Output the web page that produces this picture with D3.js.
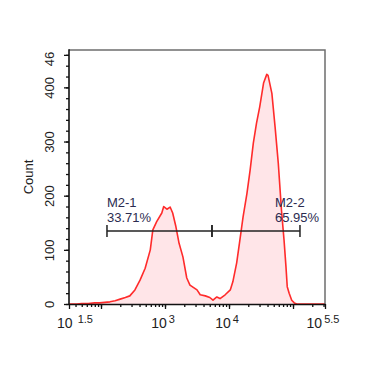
<!DOCTYPE html>
<html>
<head>
<meta charset="utf-8">
<script src="https://cdn.jsdelivr.net/npm/d3@7/dist/d3.min.js"></script>
<style>
  body { margin: 0; background: #fff; }
  svg { display: block; }
</style>
</head>
<body>
<div id="chart"></div>
<script>
"use strict";

// histogram: bin position (log10 of channel) and count
const binLog = [1.50, 1.62, 1.70, 1.80, 1.90, 1.98, 2.06, 2.14, 2.22, 2.30, 2.38, 2.45,
  2.53, 2.61, 2.69, 2.77, 2.81, 2.87, 2.95, 2.98, 3.03, 3.08, 3.12, 3.17, 3.22, 3.28,
  3.34, 3.39, 3.50, 3.55, 3.63, 3.70, 3.75, 3.81, 3.86, 3.94, 4.02, 4.06, 4.12, 4.17,
  4.22, 4.28, 4.33, 4.38, 4.43, 4.48, 4.54, 4.59, 4.61, 4.67, 4.72, 4.77, 4.82, 4.86,
  4.89, 4.91, 4.94, 4.98, 5.02, 5.06, 5.50];
const counts = [0, 0, 1, 1, 2, 2, 3, 4, 6, 9, 12, 15,
  26, 44, 66, 100, 137, 152, 168, 180, 175, 179, 168, 143, 112, 87,
  48, 35, 26, 17, 15, 12, 7, 13, 10, 17, 26, 41, 76, 118,
  161, 204, 247, 297, 334, 364, 408, 424, 422, 389, 327, 260, 173, 118,
  69, 32, 20, 7, 2, 0, 0];

const gateNames = ["M2-1", "M2-2"];
const gatePercents = ["33.71%", "65.95%"];
const gateStart = [124, 5420];
const gateEnd = [5420, 128500];

const xTickExps = [1.5, 3, 4, 5.5];
const yTickLabels = [0, 100, 200, 300, 400, 460];

const width = 381;
const height = 372;
const margin = { top: 50, right: 56, bottom: 68, left: 69 };

const svg = d3.select("#chart")
  .append("svg")
  .attr("width", width)
  .attr("height", height)
  .style("font-family", "'Liberation Sans', Arial, sans-serif");

const x = d3.scaleLog()
  .domain([Math.pow(10, 1.5), Math.pow(10, 5.5)])
  .range([margin.left, width - margin.right]);

const y = d3.scaleLinear()
  .domain([0, 469])
  .range([height - margin.bottom, margin.top]);

const data = binLog.map((e, i) => ({ v: Math.pow(10, e), c: counts[i] }));

svg.append("clipPath")
  .attr("id", "plotClip")
  .append("rect")
  .attr("x", margin.left)
  .attr("y", margin.top)
  .attr("width", width - margin.left - margin.right)
  .attr("height", height - margin.top - margin.bottom);

const plot = svg.append("g").attr("clip-path", "url(#plotClip)");

plot.append("path")
  .datum(data)
  .attr("fill", "#ffe5e8")
  .attr("d", d3.area().x(d => x(d.v)).y0(y(0)).y1(d => y(d.c)));

plot.append("path")
  .datum(data)
  .attr("fill", "none")
  .attr("stroke", "#ff2b2b")
  .attr("stroke-width", 1.6)
  .attr("stroke-linejoin", "round")
  .attr("d", d3.line().x(d => x(d.v)).y(d => y(d.c)));

// frame top / right
svg.append("path")
  .attr("fill", "none")
  .attr("stroke", "#6e6e6e")
  .attr("stroke-width", 1.5)
  .attr("d", `M${margin.left},${margin.top}H${width - margin.right}V${height - margin.bottom}`);

// y axis
const yMinor = d3.range(0, 461, 20);
svg.append("g")
  .attr("transform", `translate(${margin.left},0)`)
  .call(d3.axisLeft(y).tickValues(yMinor).tickSize(3).tickFormat(""))
  .call(g => g.select(".domain").remove())
  .selectAll("line").attr("stroke", "#111").attr("stroke-width", 1.3);

svg.append("clipPath")
  .attr("id", "yLabClip")
  .append("rect")
  .attr("x", -margin.left)
  .attr("y", margin.top + 2)
  .attr("width", 200)
  .attr("height", height);

const yAxis = svg.append("g")
  .attr("transform", `translate(${margin.left},0)`)
  .call(d3.axisLeft(y).tickValues(yTickLabels).tickSize(5).tickSizeOuter(0))
  .attr("font-size", 13)
  .attr("font-family", null)
  .attr("clip-path", "url(#yLabClip)");

yAxis.select(".domain").remove();
yAxis.selectAll("line").attr("stroke", "#111").attr("stroke-width", 1.3);
yAxis.selectAll("text")
  .attr("fill", "#222")
  .attr("transform", "rotate(-90)")
  .attr("x", 0)
  .attr("y", -15)
  .attr("dy", 0)
  .attr("text-anchor", "middle");

svg.append("line")
  .attr("x1", margin.left)
  .attr("x2", margin.left)
  .attr("y1", margin.top - 0.75)
  .attr("y2", y(0))
  .attr("stroke", "#111")
  .attr("stroke-width", 1.6);

svg.append("text")
  .attr("transform", `translate(33,${(margin.top + y(0)) / 2}) rotate(-90)`)
  .attr("text-anchor", "middle")
  .attr("font-size", 13)
  .attr("fill", "#222")
  .text("Count");

// x axis
const xMinor = [];
for (let d = 1; d <= 5; d++) {
  for (let m = 1; m <= 9; m++) {
    const v = m * Math.pow(10, d);
    if (v >= x.domain()[0] && v <= x.domain()[1]) xMinor.push(v);
  }
}
const xMajor = [Math.pow(10, 1.5), 100, 1000, 10000, 100000, Math.pow(10, 5.5)];

svg.append("g")
  .attr("transform", `translate(0,${y(0)})`)
  .call(d3.axisBottom(x).tickValues(xMinor).tickSize(3).tickFormat(""))
  .call(g => g.select(".domain").remove())
  .selectAll("line").attr("stroke", "#111").attr("stroke-width", 1.3);

const xAxis = svg.append("g")
  .attr("transform", `translate(0,${y(0)})`)
  .call(d3.axisBottom(x).tickValues(xMajor).tickSize(5).tickSizeOuter(0).tickFormat(""));
xAxis.select(".domain")
  .attr("stroke", "#111")
  .attr("stroke-width", 1.6);
xAxis.selectAll("line").attr("stroke", "#111").attr("stroke-width", 1.3);

const xLab = svg.append("g")
  .selectAll("text")
  .data(xTickExps)
  .join("text")
  .attr("x", d => x(Math.pow(10, d)) + (d === 1.5 ? 6 : -2))
  .attr("y", y(0) + 24)
  .attr("text-anchor", "middle")
  .attr("fill", "#222")
  .attr("font-size", 14);
xLab.append("tspan").text("10");
xLab.append("tspan")
  .attr("dx", d => d === 1.5 ? 5 : 2)
  .attr("dy", -5)
  .attr("font-size", 11)
  .text(d => d);

// gates
const gates = svg.append("g")
  .selectAll("g")
  .data(gateNames)
  .join("g");

const gateY = 231;
gates.append("line")
  .attr("x1", (d, i) => x(gateStart[i]))
  .attr("x2", (d, i) => x(gateEnd[i]))
  .attr("y1", gateY)
  .attr("y2", gateY)
  .attr("stroke", "#222")
  .attr("stroke-width", 1.5);
gates.append("path")
  .attr("fill", "none")
  .attr("stroke", "#222")
  .attr("stroke-width", 1.5)
  .attr("d", (d, i) => `M${x(gateStart[i])},${gateY - 6}V${gateY + 6}M${x(gateEnd[i])},${gateY - 6}V${gateY + 6}`);

const labelX = [x(gateStart[0]), 275];
gates.append("text")
  .attr("x", (d, i) => labelX[i])
  .attr("y", 207)
  .attr("font-size", 13)
  .attr("fill", "#2b2b50")
  .text(d => d);
gates.append("text")
  .attr("x", (d, i) => labelX[i])
  .attr("y", 222)
  .attr("font-size", 13)
  .attr("fill", "#2b2b50")
  .text((d, i) => gatePercents[i]);
</script>
</body>
</html>
